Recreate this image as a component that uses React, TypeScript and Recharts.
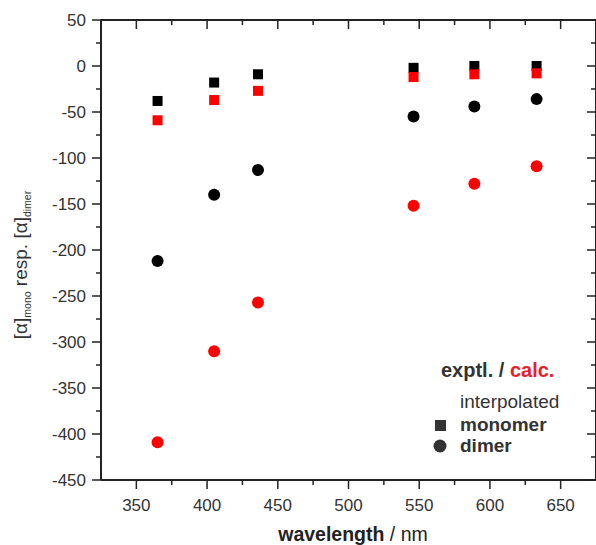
import { ScatterChart, Scatter, XAxis, YAxis, Customized } from 'recharts';

// wavelengths (nm) of the interpolated points
const wavelengths = [365, 405, 436, 546, 589, 633];
const exptlMonomer = [-38, -18, -9, -2, 0, 0];
const calcMonomer = [-59, -37, -27, -12, -9, -8];
const exptlDimer = [-212, -140, -113, -55, -44, -36];
const calcDimer = [-409, -310, -257, -152, -128, -109];

const xTicks = [350, 375, 400, 425, 450, 475, 500, 525, 550, 575, 600, 625, 650];
const yTicks = [-450, -425, -400, -375, -350, -325, -300, -275, -250, -225, -200, -175, -150, -125, -100, -75, -50, -25, 0, 25, 50];

const INK = '#222';
const LABEL = '#333';
const RED = '#ff0000';
const FONT = '"Liberation Sans", Arial, sans-serif';

const toPoints = (vals: number[]) => wavelengths.map((w, i) => ({ w, v: vals[i] }));

const isMajor = (v: number) => v % 50 === 0;

function BottomTick({ x, y, payload }: any) {
  const major = isMajor(payload.value);
  return (
    <g>
      <line x1={x} x2={x} y1={y} y2={y + (major ? 9 : 5)} stroke={INK} strokeWidth={1.5} />
      {major && (
        <text x={x} y={y + 31} textAnchor="middle" fontSize={17} fill={LABEL} fontFamily={FONT}>
          {payload.value}
        </text>
      )}
    </g>
  );
}

function TopTick({ x, y, payload }: any) {
  const major = isMajor(payload.value);
  return <line x1={x} x2={x} y1={y} y2={y + (major ? 9 : 5)} stroke={INK} strokeWidth={1.5} />;
}

function LeftTick({ x, y, payload }: any) {
  const major = isMajor(payload.value);
  return (
    <g>
      <line x1={x - (major ? 9 : 5)} x2={x} y1={y} y2={y} stroke={INK} strokeWidth={1.5} />
      {major && (
        <text x={x - 15} y={y + 6} textAnchor="end" fontSize={17} fill={LABEL} fontFamily={FONT}>
          {payload.value}
        </text>
      )}
    </g>
  );
}

function RightTick({ x, y, payload }: any) {
  const major = isMajor(payload.value);
  return <line x1={x - (major ? 9 : 5)} x2={x} y1={y} y2={y} stroke={INK} strokeWidth={1.5} />;
}

const square = (color: string) => (props: any) => (
  <rect x={props.cx - 5} y={props.cy - 5} width={10} height={10} fill={color} />
);
const dot = (color: string) => (props: any) => <circle cx={props.cx} cy={props.cy} r={6} fill={color} />;

function Annotations() {
  return (
    <g fontFamily={FONT}>
      <text transform="rotate(-90, 27, 265)" x={27} y={265} textAnchor="middle" fontSize={19} fill={LABEL}>
        [α]
        <tspan dy={4} fontSize={10.5}>mono</tspan>
        <tspan dy={-4}> resp. [α]</tspan>
        <tspan dy={4} fontSize={10.5}>dimer</tspan>
      </text>
      <text x={353} y={541} textAnchor="middle" fontSize={19.5} fill={INK}>
        <tspan fontWeight="bold">wavelength</tspan>
        <tspan> / nm</tspan>
      </text>
      <text x={441} y={377} fontSize={20} fontWeight="bold" fill={LABEL}>
        exptl. / <tspan fill="#e8202a">calc.</tspan>
      </text>
      <text x={460} y={408} fontSize={19} fill={LABEL}>interpolated</text>
      <rect x={435} y={420} width={11} height={11} fill={LABEL} />
      <text x={460} y={431} fontSize={19} fontWeight="bold" fill={LABEL}>monomer</text>
      <circle cx={440} cy={446} r={6.5} fill={LABEL} />
      <text x={460} y={452} fontSize={19} fontWeight="bold" fill={LABEL}>dimer</text>
    </g>
  );
}

export default function App() {
  const axisLine = { stroke: INK, strokeWidth: 2 };
  return (
    <div style={{ position: 'absolute', left: 0, top: 0, width: 596, height: 545, overflow: 'hidden', background: '#fff' }}>
      <ScatterChart width={600} height={545} margin={{ top: 10, right: 0, bottom: 25, left: 41 }}>
        <XAxis
          xAxisId="main"
          type="number"
          dataKey="w"
          domain={[325, 675]}
          allowDataOverflow
          ticks={xTicks}
          interval={0}
          height={40}
          tickSize={0}
          tickMargin={0}
          tickLine={false}
          axisLine={axisLine}
          tick={<BottomTick />}
        />
        <XAxis
          xAxisId="top"
          orientation="top"
          type="number"
          dataKey="w"
          domain={[325, 675]}
          allowDataOverflow
          ticks={xTicks}
          interval={0}
          height={10}
          tickSize={0}
          tickMargin={0}
          tickLine={false}
          axisLine={axisLine}
          tick={<TopTick />}
        />
        <YAxis
          yAxisId="main"
          type="number"
          dataKey="v"
          domain={[-450, 50]}
          allowDataOverflow
          ticks={yTicks}
          interval={0}
          width={60}
          tickSize={0}
          tickMargin={0}
          tickLine={false}
          axisLine={axisLine}
          tick={<LeftTick />}
        />
        <YAxis
          yAxisId="right"
          orientation="right"
          type="number"
          dataKey="v"
          domain={[-450, 50]}
          allowDataOverflow
          ticks={yTicks}
          interval={0}
          width={4}
          tickSize={0}
          tickMargin={0}
          tickLine={false}
          axisLine={axisLine}
          tick={<RightTick />}
        />
        <Scatter xAxisId="main" yAxisId="main" name="exptl. monomer" data={toPoints(exptlMonomer)} fill={INK} shape={square('#000')} isAnimationActive={false} />
        <Scatter xAxisId="main" yAxisId="main" name="calc. monomer" data={toPoints(calcMonomer)} fill={RED} shape={square(RED)} isAnimationActive={false} />
        <Scatter xAxisId="main" yAxisId="main" name="exptl. dimer" data={toPoints(exptlDimer)} fill={INK} shape={dot('#000')} isAnimationActive={false} />
        <Scatter xAxisId="main" yAxisId="main" name="calc. dimer" data={toPoints(calcDimer)} fill={RED} shape={dot(RED)} isAnimationActive={false} />
        <Customized component={Annotations} />
      </ScatterChart>
    </div>
  );
}
